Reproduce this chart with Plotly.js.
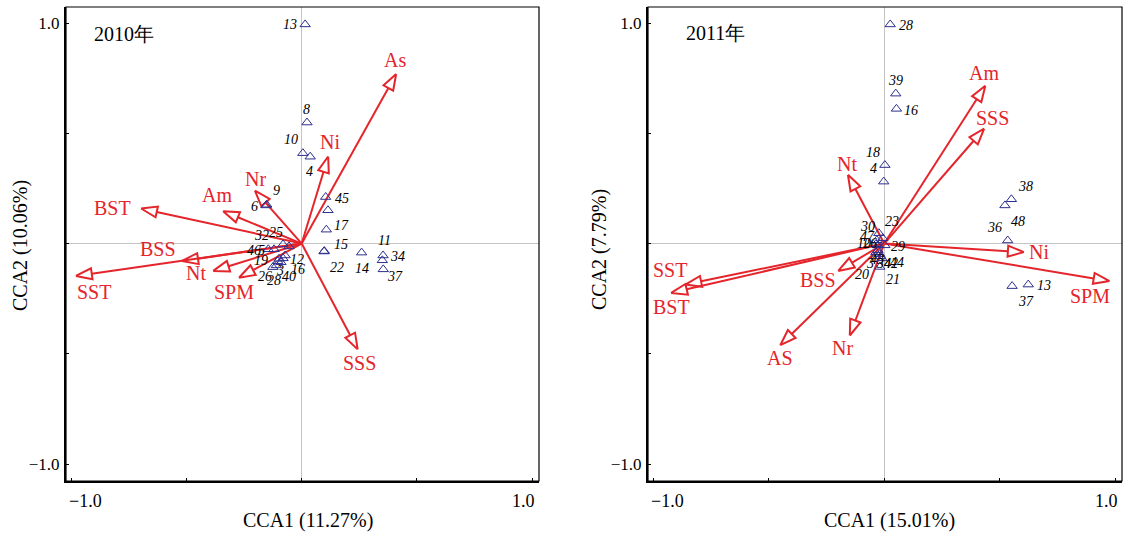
<!DOCTYPE html>
<html><head><meta charset="utf-8">
<script src="https://cdn.plot.ly/plotly-3.0.1.min.js"></script>
<style>html,body{margin:0;padding:0;background:#fff}</style>
</head><body><div id="chart" style="width:1126px;height:534px"></div>
<script>
// ---------- 2010 panel: environmental vectors ----------
const vars2010 = ['As','Ni','Nr','Am','BST','BSS','SST','Nt','SPM','SSS'];
const vecX2010 = [0.41, 0.115, -0.203, -0.341, -0.697, -0.519, -0.98, -0.384, -0.272, 0.243];
const vecY2010 = [0.769, 0.395, 0.24, 0.147, 0.159, -0.079, -0.147, -0.124, -0.155, -0.48];
// ---------- 2010 panel: sites ----------
const sites2010 = ['13','8','10','4','6','9','45','','17','15','22','14','11','34','37',
                   '46','32','25','5','12','19','3','26','28','40','16'];
const siteX2010 = [0.015, 0.023, 0.005, 0.037, -0.155, -0.152, 0.104, 0.114, 0.107, 0.098, 0.097, 0.26, 0.353, 0.35, 0.354,
                   -0.145, -0.12, -0.081, -0.055, -0.072, -0.098, -0.104, -0.11, -0.125, -0.09, -0.081];
const siteY2010 = [0.994, 0.549, 0.41, 0.394, 0.173, 0.176, 0.211, 0.151, 0.063, -0.034, -0.036, -0.041, -0.054, -0.076, -0.117,
                   -0.026, -0.026, -0.004, -0.013, -0.054, -0.069, -0.08, -0.099, -0.107, -0.085, -0.067];

// ---------- 2011 panel: environmental vectors ----------
const vars2011 = ['Am','SSS','Nt','Ni','SPM','SST','BST','BSS','AS','Nr'];
const vecX2011 = [0.438, 0.433, -0.157, 0.605, 0.976, -0.861, -0.923, -0.199, -0.45, -0.149];
const vecY2011 = [0.716, 0.521, 0.312, -0.039, -0.17, -0.186, -0.224, -0.124, -0.461, -0.417];
// ---------- 2011 panel: sites ----------
const sites2011 = ['28','39','16','18','4','38','48','36','13','37',
                   '30','23','47','10','26','29','43','3','34','42','44','20','21'];
const siteX2011 = [0.026, 0.05, 0.053, 0.003, -0.002, 0.551, 0.523, 0.535, 0.624, 0.554,
                   -0.023, -0.006, -0.032, -0.036, -0.027, 0.003, -0.027, -0.036, -0.019, -0.015, -0.01, -0.036, -0.019];
const siteY2011 = [0.994, 0.68, 0.611, 0.356, 0.281, 0.201, 0.173, 0.014, -0.186, -0.193,
                   0.047, 0.024, 0.015, -0.003, -0.008, -0.008, -0.03, -0.04, -0.048, -0.058, -0.067, -0.058, -0.106];

const tickVals = [-1, -0.5, 0, 0.5, 1];
const tickText = ['\u22121.0', '', '', '', '1.0'];

// ---------- label placement (pixel offsets: right, down) ----------
const vecOff2010 = [[-1,-14],[2,-14],[1,-12],[-6,-16],[-29,-1],[-24,-12],[18,16],[-17,2],[-5,14],[2,14]];
const siteOff2010 = [[-15,0],[0,-13],[-12,-14],[-1,15],[-11,1],[10,-14],[16,1],[0,0],[15,-4],[17,-7],[13,16],[0,16],[1,-15],[15,-4],[12,7],
                     [-14,1],[-13,-14],[-7,-12],[-28,4],[12,4],[-18,2],[2,9],[-11,11],[1,13],[8,14],[15,11]];
const vecOff2011 = [[-1,-13],[8,-11],[-1,-11],[15,0],[-20,15],[-15,-15],[0,14],[-20,9],[0,13],[-7,13]];
const siteOff2011 = [[16,1],[0,-13],[15,2],[-12,-13],[-10,-13],[14,-13],[13,16],[-13,-13],[16,1],[14,15],
                     [-11,-7],[9,-17],[-9,-4],[-12,-1],[-8,-2],[13,1],[-1,9],[-6,11],[4,9],[10,7],[15,4],[-14,18],[13,13]];

const RED = '#e4252b';
const BLUE = '#2d2f8e';
const SERIF = 'Liberation Serif, Times New Roman, serif';
const W = 1126, H = 534;
const XR = [-1.023, 1.03], YR = [-1.077, 1.073];
const dom1 = [66 / W, 539 / W], dom2 = [648 / W, 1122 / W], domY = [1 - 481 / H, 1 - 7 / H];
const sx1 = (dom1[1] - dom1[0]) * W / (XR[1] - XR[0]);
const sx2 = (dom2[1] - dom2[0]) * W / (XR[1] - XR[0]);
const sy = (domY[1] - domY[0]) * H / (YR[1] - YR[0]);

const traces = [];
const annots = [];

function addPanel(names, vx, vy, voff, sites, px, py, soff, xa, ya, sx) {
  const xr = xa;
  const yr = ya;
  const L = 16, HW = 5.5;
  for (let i = 0; i < names.length; i++) {
    const tx = vx[i] * sx, ty = vy[i] * sy;
    const len = Math.hypot(tx, ty);
    const ux = tx / len, uy = ty / len;
    const bx = tx - ux * L, by = ty - uy * L;
    const c1x = bx - uy * HW, c1y = by + ux * HW;
    const c2x = bx + uy * HW, c2y = by - ux * HW;
    traces.push({x: [0, bx / sx], y: [0, by / sy], xaxis: xa, yaxis: ya, mode: 'lines',
      line: {color: RED, width: 2}, hoverinfo: 'skip', showlegend: false});
    traces.push({x: [vx[i], c1x / sx, c2x / sx, vx[i]], y: [vy[i], c1y / sy, c2y / sy, vy[i]],
      xaxis: xa, yaxis: ya, mode: 'lines', fill: 'toself', fillcolor: 'rgba(255,255,255,1)',
      line: {color: RED, width: 2}, hoverinfo: 'skip', showlegend: false});
    annots.push({xref: xr, yref: yr, x: vx[i], y: vy[i], xshift: voff[i][0], yshift: -voff[i][1],
      text: names[i], showarrow: false, xanchor: 'center', yanchor: 'middle',
      font: {family: SERIF, size: 20, color: RED}});
  }
  traces.push({x: px, y: py, xaxis: xa, yaxis: ya, mode: 'markers', text: sites,
    marker: {symbol: 'triangle-up-open', size: 9, color: BLUE, line: {width: 1, color: BLUE}},
    hoverinfo: 'text', showlegend: false});
  for (let i = 0; i < sites.length; i++) {
    if (!sites[i]) continue;
    annots.push({xref: xr, yref: yr, x: px[i], y: py[i], xshift: soff[i][0], yshift: -soff[i][1],
      text: sites[i], showarrow: false, xanchor: 'center', yanchor: 'middle',
      font: {family: SERIF, size: 14, color: '#000', style: 'italic'}});
  }
  // x-axis tick labels (first and last tick), aligned to the frame as in the source figure
  annots.push({xref: xr, yref: 'paper', x: tickVals[0], y: 1 - 501 / H, xshift: -4, text: tickText[0],
    showarrow: false, xanchor: 'left', yanchor: 'middle', font: {family: SERIF, size: 18, color: '#000'}});
  annots.push({xref: xr, yref: 'paper', x: tickVals[4], y: 1 - 501 / H, xshift: 5, text: tickText[4],
    showarrow: false, xanchor: 'right', yanchor: 'middle', font: {family: SERIF, size: 18, color: '#000'}});
}

addPanel(vars2010, vecX2010, vecY2010, vecOff2010, sites2010, siteX2010, siteY2010, siteOff2010, 'x', 'y', sx1);
addPanel(vars2011, vecX2011, vecY2011, vecOff2011, sites2011, siteX2011, siteY2011, siteOff2011, 'x2', 'y2', sx2);

function paperText(x, y, text, angle) {
  annots.push({xref: 'paper', yref: 'paper', x: x / W, y: 1 - y / H, text: text, showarrow: false,
    xanchor: 'center', yanchor: 'middle', textangle: angle || 0,
    font: {family: SERIF, size: 20, color: '#000'}});
}
paperText(124, 34, '2010年');
paperText(716, 33, '2011年');
paperText(308, 520, 'CCA1 (11.27%)');
paperText(889, 520, 'CCA1 (15.01%)');
paperText(20, 246, 'CCA2 (10.06%)', -90);
paperText(599, 250, 'CCA2 (7.79%)', -90);

function axis(dom, anchor, range, isX) {
  return {domain: dom, anchor: anchor, range: range, tickvals: tickVals,
    ticktext: isX ? ['', '', '', '', ''] : tickText,
    ticks: 'inside', ticklen: 3, tickwidth: 1, tickcolor: '#000',
    showline: true, linewidth: 2, linecolor: '#000', mirror: false,
    showgrid: false, zeroline: true, zerolinecolor: '#c4c4c4', zerolinewidth: 1,
    ticklabelstandoff: isX ? 4 : 1,
    tickfont: {family: SERIF, size: 17, color: '#000'}, fixedrange: true, automargin: false};
}

const layout = {
  width: W, height: H, margin: {l: 0, r: 0, t: 0, b: 0},
  paper_bgcolor: '#fff', plot_bgcolor: '#fff',
  xaxis: axis(dom1, 'y', XR, true), yaxis: axis(domY, 'x', YR, false),
  xaxis2: axis(dom2, 'y2', XR, true), yaxis2: axis(domY, 'x2', YR, false),
  annotations: annots,
  shapes: [
    {type: 'rect', xref: 'x domain', yref: 'y domain', x0: 0, x1: 1, y0: 0, y1: 1, line: {color: '#000', width: 1.2}},
    {type: 'rect', xref: 'x2 domain', yref: 'y2 domain', x0: 0, x1: 1, y0: 0, y1: 1, line: {color: '#000', width: 1.2}}
  ]
};

Plotly.newPlot('chart', traces, layout, {displayModeBar: false, staticPlot: true});
</script>
</body></html>
